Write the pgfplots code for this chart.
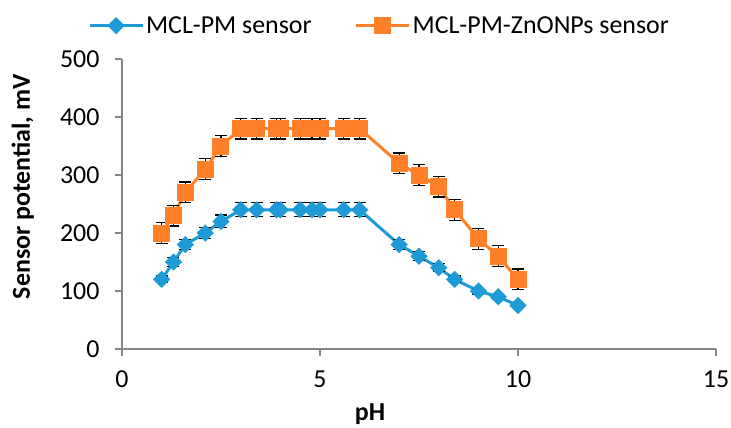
\documentclass[border=0pt]{standalone}
\usepackage{fontspec}
\setmainfont{Carlito}
\usepackage{pgfplots}
\pgfplotsset{compat=1.18}
\definecolor{cblue}{RGB}{30,155,215}
\definecolor{corange}{RGB}{255,128,40}
\definecolor{axgray}{RGB}{134,134,134}
\begin{document}
\begin{tikzpicture}
\path[use as bounding box] (-122bp,-79bp) rectangle (609bp,349bp);
\begin{axis}[
  scale only axis, width=594bp, height=290bp,
  xmin=0, xmax=15, ymin=0, ymax=500,
  xtick={0,5,10,15}, ytick={0,100,200,300,400,500},
  axis x line*=bottom, axis y line*=left,
  axis line style={axgray, line width=1.5bp, -},
  every tick/.style={axgray, line width=1.5bp},
  tick align=outside, major tick length=7bp,
  /pgf/number format/assume math mode=true,
  ticklabel style={font=\fontsize{26}{30}\selectfont, text=black},
  yticklabel style={xshift=-12bp},
  xticklabel style={yshift=-11bp},
  xlabel={\textbf{pH}},
  ylabel={\textbf{Sensor potential, mV}},
  label style={font=\fontsize{26}{30}\selectfont},
  xlabel style={at={(axis description cs:0.4175,-0.246)}, anchor=base},
  ylabel style={at={(axis description cs:-0.167,0.56)}, anchor=center, rotate=0},
  legend columns=2,
  legend style={draw=none, fill=none, at={(axis description cs:0.4335,1.115)}, anchor=center,
    font=\fontsize{26}{30}\selectfont,
    /tikz/every even column/.append style={column sep=41bp}},
  legend image code/.code={\draw[#1,mark repeat=2,mark phase=2] plot coordinates {(0bp,0bp) (26.5bp,0bp) (53bp,0bp)};},
  clip=false,
]
\addplot[cblue, line width=3bp, mark=diamond*, mark options={solid, fill=cblue, draw=cblue, xscale=1.33, mark size=6.5bp},
  error bars/.cd, y dir=both, y explicit,
  error bar style={black, line width=1.2bp},
  error mark options={black, rotate=90, mark size=6bp, line width=1.2bp}]
coordinates {
(1,120) +- (0,6)
(1.3,150) +- (0,7.5)
(1.6,180) +- (0,9)
(2.1,200) +- (0,10)
(2.5,220) +- (0,11)
(3,240) +- (0,12)
(3.4,240) +- (0,12)
(3.9,240) +- (0,12)
(4,240) +- (0,12)
(4.5,240) +- (0,12)
(4.8,240) +- (0,12)
(5,240) +- (0,12)
(5.6,240) +- (0,12)
(6,240) +- (0,12)
(7,180) +- (0,9)
(7.5,160) +- (0,8)
(8,140) +- (0,7)
(8.4,120) +- (0,6)
(9,100) +- (0,5)
(9.5,90) +- (0,4.5)
(10,75) +- (0,3.75)
};
\addlegendentry{MCL-PM sensor}
\addplot[corange, line width=3bp, mark=square*, mark options={solid, fill=corange, draw=corange, mark size=7bp},
  error bars/.cd, y dir=both, y explicit,
  error bar style={black, line width=1.2bp},
  error mark options={black, rotate=90, mark size=6bp, line width=1.2bp}]
coordinates {
(1,200) +- (0,18)
(1.3,230) +- (0,18)
(1.6,270) +- (0,18)
(2.1,310) +- (0,18)
(2.5,350) +- (0,18)
(3,380) +- (0,18)
(3.4,380) +- (0,18)
(3.9,380) +- (0,18)
(4,380) +- (0,18)
(4.5,380) +- (0,18)
(4.8,380) +- (0,18)
(5,380) +- (0,18)
(5.6,380) +- (0,18)
(6,380) +- (0,18)
(7,320) +- (0,18)
(7.5,300) +- (0,18)
(8,280) +- (0,18)
(8.4,240) +- (0,18)
(9,190) +- (0,18)
(9.5,160) +- (0,18)
(10,120) +- (0,18)
};
\addlegendentry{MCL-PM-ZnONPs sensor}
\end{axis}
\end{tikzpicture}
\end{document}
